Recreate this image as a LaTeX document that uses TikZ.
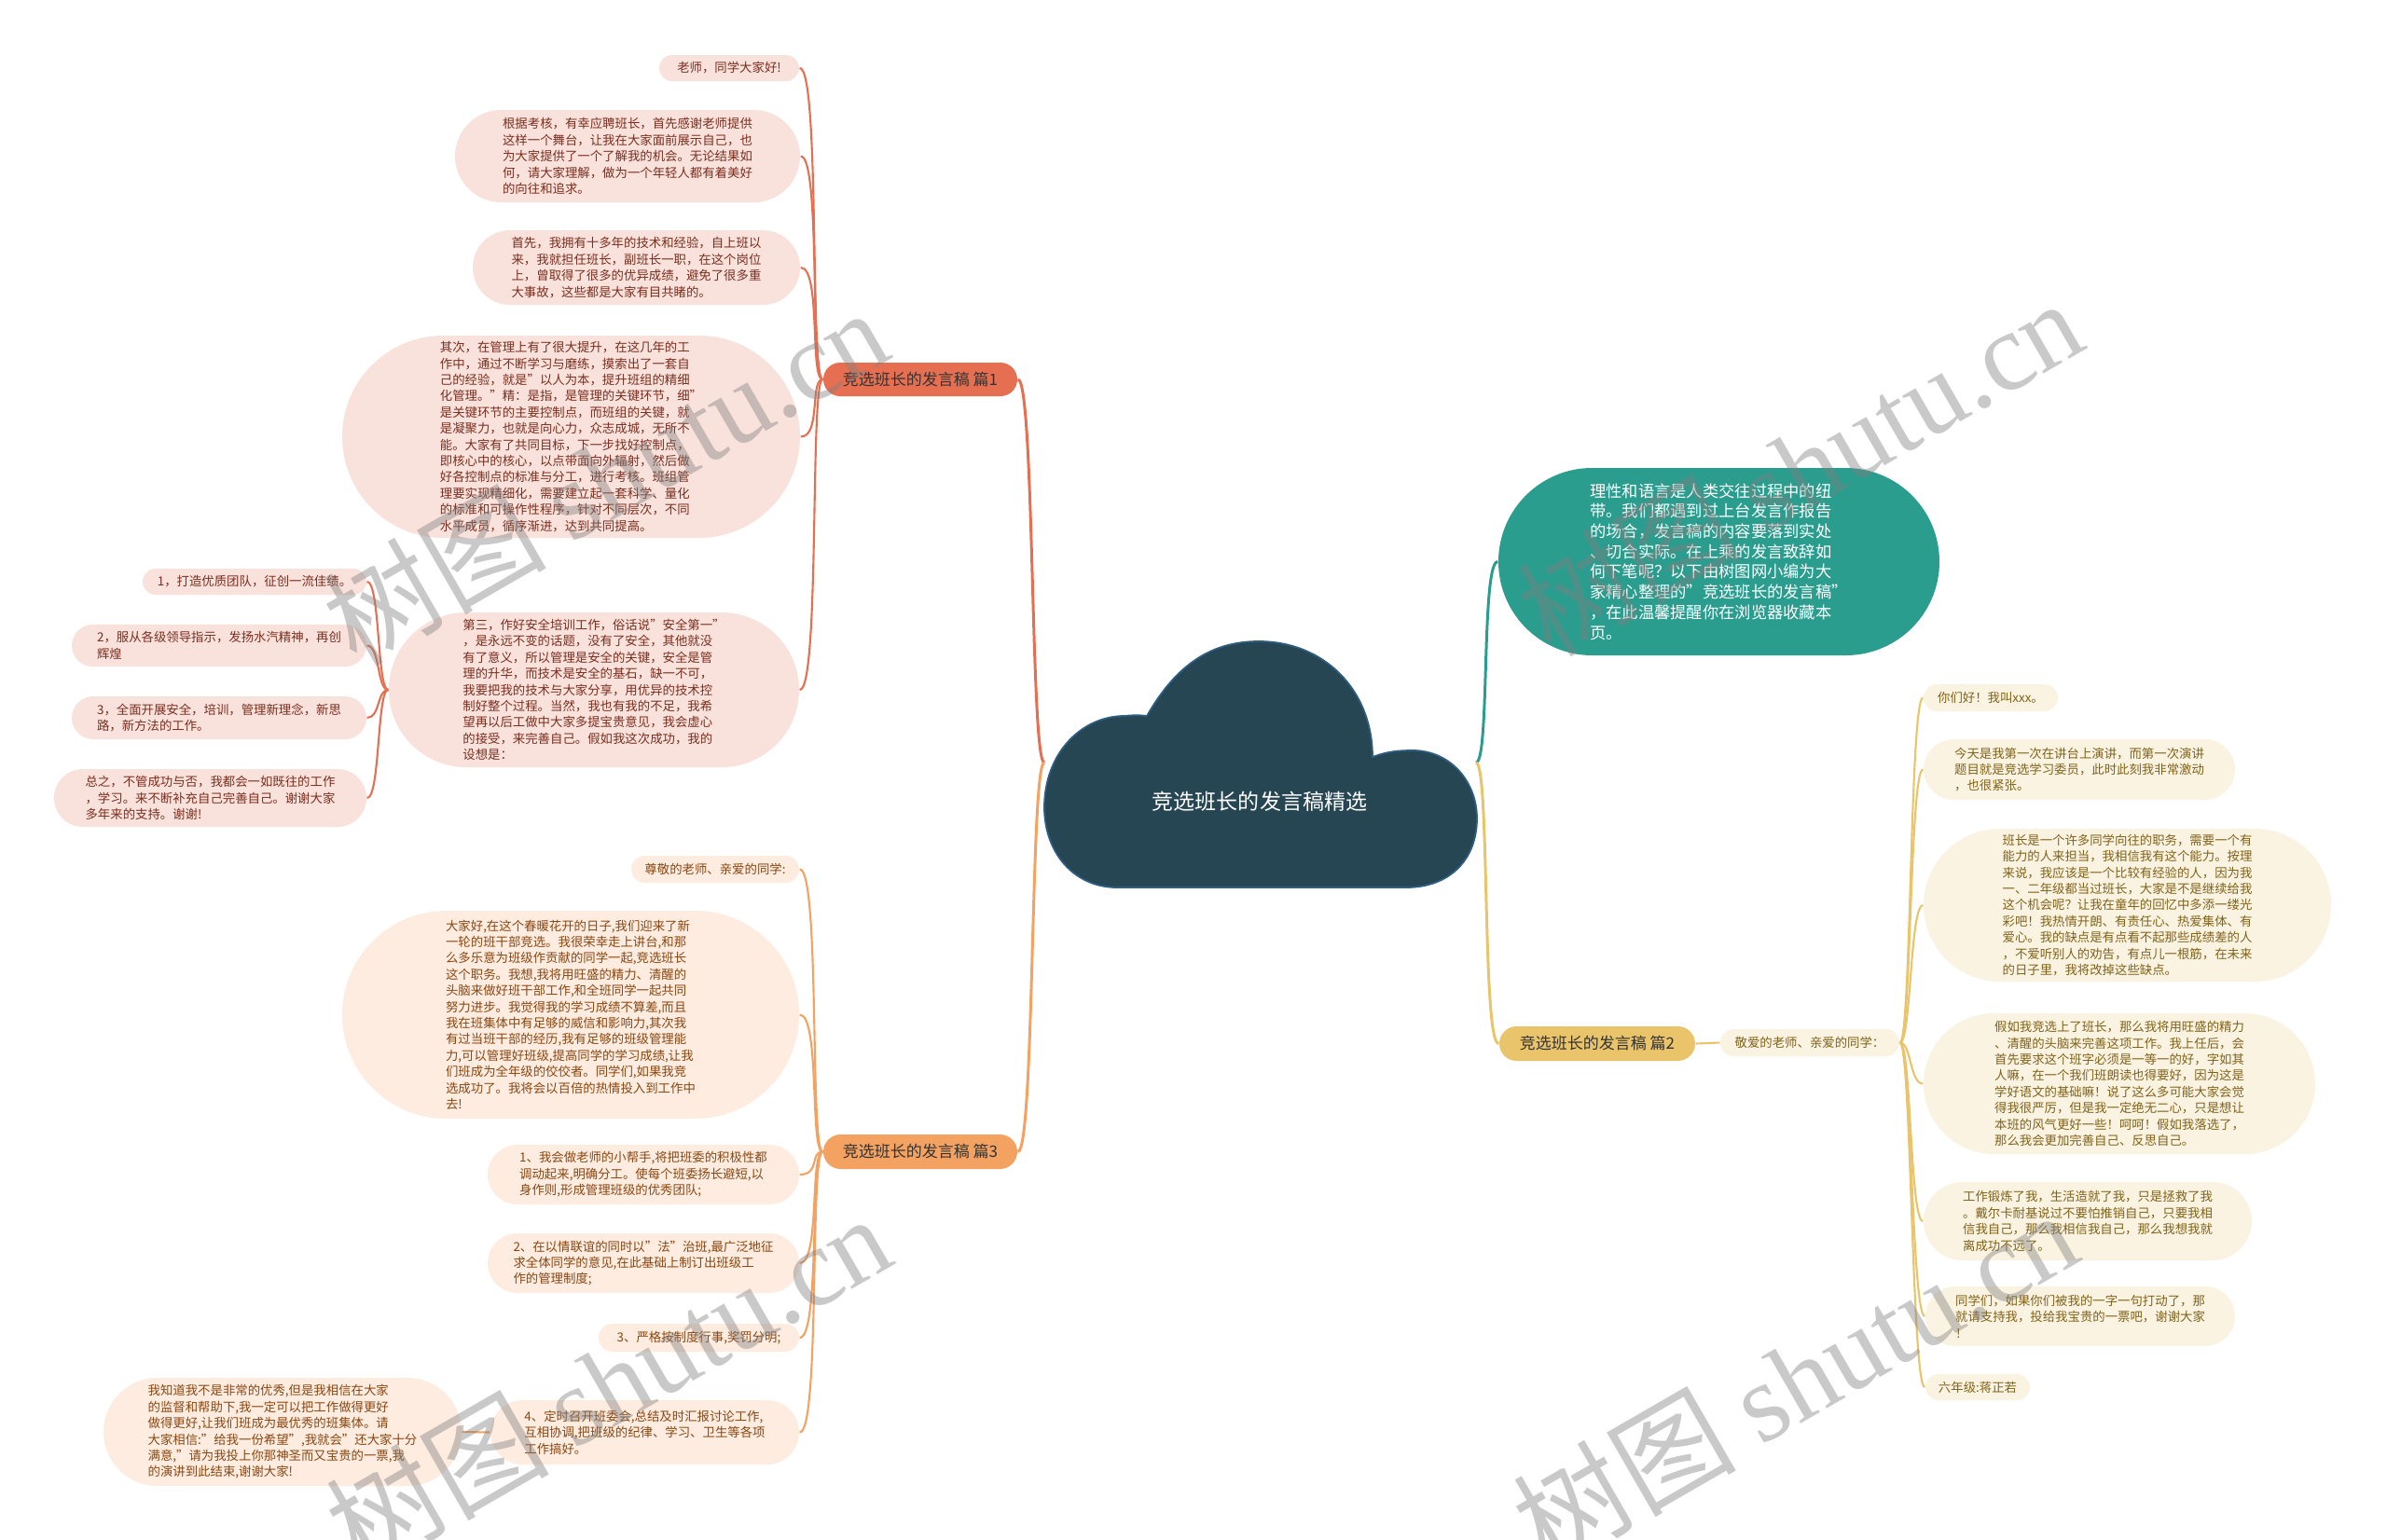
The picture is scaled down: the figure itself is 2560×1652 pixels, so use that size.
\documentclass[tikz,border=0pt]{standalone}
\usepackage{fontspec}
\setmainfont{Noto Sans CJK SC}
\newfontfamily\wmlat{Liberation Serif}
\definecolor{cA}{HTML}{E76F51}
\definecolor{cB}{HTML}{E9C46A}
\definecolor{cC}{HTML}{F4A261}
\definecolor{cT}{HTML}{2A9D8F}
\definecolor{cK}{HTML}{264653}
\definecolor{cKe}{HTML}{2F5E80}
\definecolor{fA}{HTML}{FAE2DC}
\definecolor{fB}{HTML}{FBF3E1}
\definecolor{fC}{HTML}{FDECDF}
\definecolor{tA}{HTML}{7A2E1E}
\definecolor{tB}{HTML}{80631A}
\definecolor{tC}{HTML}{8A4712}
\definecolor{tBr}{HTML}{333333}
\newcommand\lf{\fontsize{3.81pt}{4.95pt}\selectfont}
\newcommand\tf{\fontsize{4.92pt}{6.17pt}\selectfont}
\newcommand\brf{\fontsize{4.84pt}{6pt}\selectfont}
\newcommand\cf{\fontsize{6.55pt}{8pt}\selectfont}
\newcommand\mnode[7]{\node[#2, minimum width={(#5-#3)*0.1mm}, minimum height={(#6-#4)*0.1mm}, rounded corners={(#6-#4)*0.05mm}] (#1) at ({(#3+#5)/2},{(#4+#6)/2}) {#7};}
\tikzset{
  lA/.style={fill=fA, text=tA, inner sep=0pt, align=left, font=\lf},
  lB/.style={fill=fB, text=tB, inner sep=0pt, align=left, font=\lf},
  lC/.style={fill=fC, text=tC, inner sep=0pt, align=left, font=\lf},
  tl/.style={fill=cT, text=white, inner sep=0pt, align=left, font=\tf},
  brA/.style={fill=cA, text=tBr, inner sep=0pt, font=\brf},
  brB/.style={fill=cB, text=tBr, inner sep=0pt, font=\brf},
  brC/.style={fill=cC, text=tBr, inner sep=0pt, font=\brf},
  mainln/.style={line width=0.85pt},
  subln/.style={line width=0.6pt},
  wm/.style={rotate=30, text=black!50, text opacity=0.42, font=\fontsize{34pt}{40pt}\selectfont}
}
\begin{document}
\begin{tikzpicture}[x=0.1mm,y=-0.1mm]
\useasboundingbox (0,0) rectangle (2560,1652);
\clip (0,0) rectangle (2560,1652);
\fill[white] (0,0) rectangle (2560,1652);

% cloud
\filldraw[fill=cK, draw=cKe, line width=0.5pt]
  (1230,768) .. controls (1262,712) and (1300,688) .. (1350,688)
  .. controls (1420,688) and (1472,740) .. (1472,812)
  .. controls (1488,806) and (1500,805) .. (1515,805)
  .. controls (1555,805) and (1584,838) .. (1584,878)
  .. controls (1584,922) and (1555,952) .. (1508,952)
  -- (1198,952)
  .. controls (1152,952) and (1120,915) .. (1120,866)
  .. controls (1120,808) and (1160,768) .. (1206,768)
  .. controls (1215,767) and (1223,767) .. (1230,768) -- cycle;
\node[text=white, font=\cf] (root) at (1351,860) {竞选班长的发言稿精选};
\coordinate (cl) at (1120,818);
\coordinate (cr) at (1583,818);

% branch nodes
\mnode{p1}{brA}{883}{389}{1091}{425}{竞选班长的发言稿 篇1}
\mnode{p3}{brC}{883}{1217}{1091}{1254}{竞选班长的发言稿 篇3}
\mnode{p2}{brB}{1608}{1101}{1818}{1138}{竞选班长的发言稿 篇2}

% teal
\mnode{t}{tl}{1607}{502}{2080}{703}{理性和语言是人类交往过程中的纽\\带。我们都遇到过上台发言作报告\\的场合，发言稿的内容要落到实处\\、切合实际。在上乘的发言致辞如\\何下笔呢？以下由树图网小编为大\\家精心整理的"竞选班长的发言稿"\\，在此温馨提醒你在浏览器收藏本\\页。}

% branch 1 children
\mnode{a1}{lA}{707}{59}{857}{87}{老师，同学大家好!}
\mnode{a2}{lA}{488}{118}{858}{217}{根据考核，有幸应聘班长，首先感谢老师提供\\这样一个舞台，让我在大家面前展示自己，也\\为大家提供了一个了解我的机会。无论结果如\\何，请大家理解，做为一个年轻人都有着美好\\的向往和追求。}
\mnode{a3}{lA}{507}{247}{858}{327}{首先，我拥有十多年的技术和经验，自上班以\\来，我就担任班长，副班长一职，在这个岗位\\上，曾取得了很多的优异成绩，避免了很多重\\大事故，这些都是大家有目共睹的。}
\mnode{a4}{lA}{367}{360}{858}{577}{其次，在管理上有了很大提升，在这几年的工\\作中，通过不断学习与磨练，摸索出了一套自\\己的经验，就是"以人为本，提升班组的精细\\化管理。"精：是指，是管理的关键环节，细"\\是关键环节的主要控制点，而班组的关键，就\\是凝聚力，也就是向心力，众志成城，无所不\\能。大家有了共同目标，下一步找好控制点，\\即核心中的核心，以点带面向外辐射，然后做\\好各控制点的标准与分工，进行考核。班组管\\理要实现精细化，需要建立起一套科学、量化\\的标准和可操作性程序，针对不同层次，不同\\水平成员，循序渐进，达到共同提高。}
\mnode{a5}{lA}{417}{657}{857}{823}{第三，作好安全培训工作，俗话说"安全第一"\\，是永远不变的话题，没有了安全，其他就没\\有了意义，所以管理是安全的关键，安全是管\\理的升华，而技术是安全的基石，缺一不可，\\我要把我的技术与大家分享，用优异的技术控\\制好整个过程。当然，我也有我的不足，我希\\望再以后工做中大家多提宝贵意见，我会虚心\\的接受，来完善自己。假如我这次成功，我的\\设想是：}
\mnode{b1}{lA}{153}{610}{393}{638}{1，打造优质团队，征创一流佳绩。}
\mnode{b2}{lA}{77}{670}{393}{715}{2，服从各级领导指示，发扬水汽精神，再创\\辉煌}
\mnode{b3}{lA}{77}{747}{393}{793}{3，全面开展安全，培训，管理新理念，新思\\路，新方法的工作。}
\mnode{b4}{lA}{58}{825}{393}{887}{总之，不管成功与否，我都会一如既往的工作\\，学习。来不断补充自己完善自己。谢谢大家\\多年来的支持。谢谢!}

% branch 3 children
\mnode{c1}{lC}{677}{918}{857}{947}{尊敬的老师、亲爱的同学:}
\mnode{c2}{lC}{367}{977}{857}{1200}{大家好,在这个春暖花开的日子,我们迎来了新\\一轮的班干部竞选。我很荣幸走上讲台,和那\\么多乐意为班级作贡献的同学一起,竞选班长\\这个职务。我想,我将用旺盛的精力、清醒的\\头脑来做好班干部工作,和全班同学一起共同\\努力进步。我觉得我的学习成绩不算差,而且\\我在班集体中有足够的威信和影响力,其次我\\有过当班干部的经历,我有足够的班级管理能\\力,可以管理好班级,提高同学的学习成绩,让我\\们班成为全年级的佼佼者。同学们,如果我竞\\选成功了。我将会以百倍的热情投入到工作中\\去!}
\mnode{c3}{lC}{523}{1228}{857}{1292}{1、我会做老师的小帮手,将把班委的积极性都\\调动起来,明确分工。使每个班委扬长避短,以\\身作则,形成管理班级的优秀团队;}
\mnode{c4}{lC}{523}{1323}{857}{1387}{2、在以情联谊的同时以"法"治班,最广泛地征\\求全体同学的意见,在此基础上制订出班级工\\作的管理制度;}
\mnode{c5}{lC}{642}{1420}{857}{1450}{3、严格按制度行事,奖罚分明;}
\mnode{c6}{lC}{526}{1502}{857}{1571}{4、定时召开班委会,总结及时汇报讨论工作,\\互相协调,把班级的纪律、学习、卫生等各项\\工作搞好。}
\mnode{c7}{lC}{111}{1478}{495}{1594}{我知道我不是非常的优秀,但是我相信在大家\\的监督和帮助下,我一定可以把工作做得更好\\做得更好,让我们班成为最优秀的班集体。请\\大家相信:"给我一份希望",我就会"还大家十分\\满意,"请为我投上你那神圣而又宝贵的一票,我\\的演讲到此结束,谢谢大家!}

% branch 2 children
\mnode{d0}{lB}{1845}{1104}{2037}{1133}{敬爱的老师、亲爱的同学：}
\mnode{d1}{lB}{2063}{734}{2207}{763}{你们好！我叫xxx。}
\mnode{d2}{lB}{2063}{793}{2397}{858}{今天是我第一次在讲台上演讲，而第一次演讲\\题目就是竞选学习委员，此时此刻我非常激动\\，也很紧张。}
\mnode{d3}{lB}{2063}{889}{2500}{1053}{班长是一个许多同学向往的职务，需要一个有\\能力的人来担当，我相信我有这个能力。按理\\来说，我应该是一个比较有经验的人，因为我\\一、二年级都当过班长，大家是不是继续给我\\这个机会呢？让我在童年的回忆中多添一缕光\\彩吧！我热情开朗、有责任心、热爱集体、有\\爱心。我的缺点是有点看不起那些成绩差的人\\，不爱听别人的劝告，有点儿一根筋，在未来\\的日子里，我将改掉这些缺点。}
\mnode{d4}{lB}{2063}{1087}{2483}{1238}{假如我竞选上了班长，那么我将用旺盛的精力\\、清醒的头脑来完善这项工作。我上任后，会\\首先要求这个班字必须是一等一的好，字如其\\人嘛，在一个我们班朗读也得要好，因为这是\\学好语文的基础嘛！说了这么多可能大家会觉\\得我很严厉，但是我一定绝无二心，只是想让\\本班的风气更好一些！呵呵！假如我落选了，\\那么我会更加完善自己、反思自己。}
\mnode{d5}{lB}{2063}{1268}{2415}{1352}{工作锻炼了我，生活造就了我，只是拯救了我\\。戴尔卡耐基说过不要怕推销自己，只要我相\\信我自己，那么我相信我自己，那么我想我就\\离成功不远了。}
\mnode{d6}{lB}{2065}{1380}{2397}{1444}{同学们，如果你们被我的一字一句打动了，那\\就请支持我，投给我宝贵的一票吧，谢谢大家\\！}
\mnode{d7}{lB}{2065}{1474}{2177}{1502}{六年级:蒋正若}

% main connectors
\draw[cA, mainln] (cl) .. controls +(-15,0) and +(18,0) .. (p1.east);
\draw[cC, mainln] (cl) .. controls +(-15,0) and +(18,0) .. (p3.east);
\draw[cT, mainln] (cr) .. controls +(15,0) and +(-18,0) .. (t.west);
\draw[cB, mainln] (cr) .. controls +(15,0) and +(-18,0) .. (p2.west);

% branch 1 fan
\foreach \n in {a1,a2,a3,a4,a5}
  \draw[cA, subln] (p1.west) .. controls +(-14,0) and +(22,0) .. (\n.east);
\foreach \n in {b1,b2,b3,b4}
  \draw[cA, subln] (a5.west) .. controls +(-12,0) and +(14,0) .. (\n.east);

% branch 3 fan
\foreach \n in {c1,c2,c3,c4,c5,c6}
  \draw[cC, subln] (p3.west) .. controls +(-14,0) and +(22,0) .. (\n.east);
\draw[cC, subln] (c6.west) -- (c7.east);

% branch 2
\draw[cB, subln] (p2.east) -- (d0.west);
\foreach \n in {d1,d2,d3,d4,d5,d6,d7}
  \draw[cB, subln] (d0.east) .. controls +(12,0) and +(-14,0) .. (\n.west);

% watermarks
\node[wm] (wm1) at (649,510) {树图 {\wmlat shutu.cn}};
\node[wm] (wm2) at (1930,500) {树图 {\wmlat shutu.cn}};
\node[wm] (wm3) at (652,1482) {树图 {\wmlat shutu.cn}};
\node[wm] (wm4) at (1925,1478) {树图 {\wmlat shutu.cn}};
\end{tikzpicture}
\end{document}
